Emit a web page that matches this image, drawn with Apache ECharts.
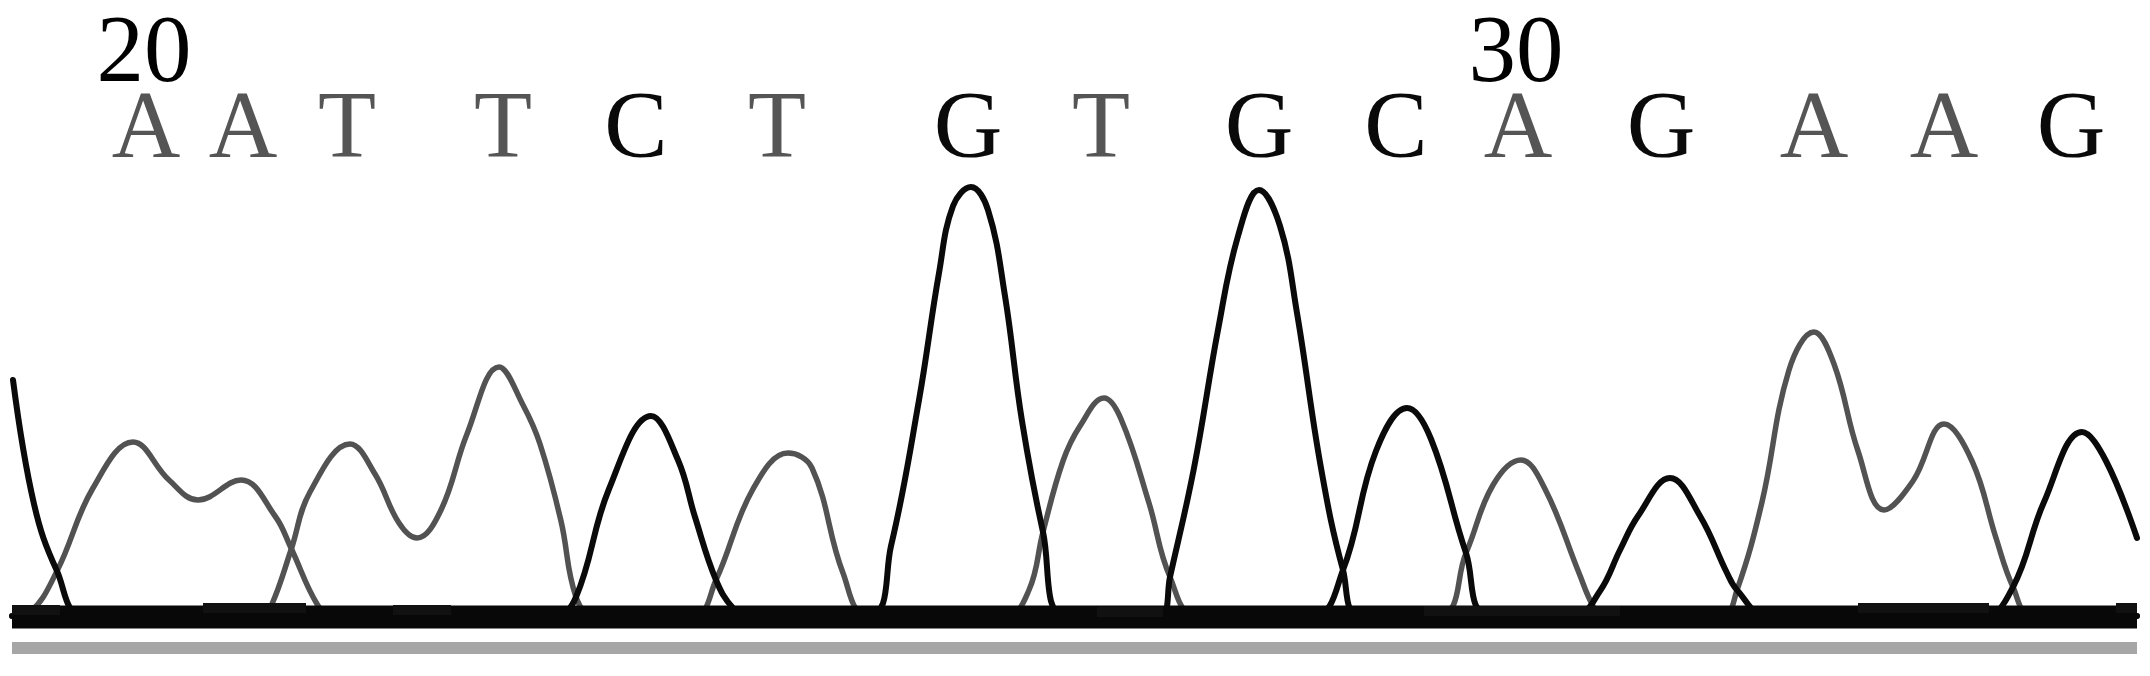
<html>
  <head>
    <meta charset="utf-8">
    <title>Chromatogram</title>
    <script type="text/javascript" src="https://cdn.jsdelivr.net/npm/echarts@6/dist/echarts.min.js"></script>
    <style>
      html, body { margin: 0; padding: 0; background: #fff; }
      #chart { width: 2150px; height: 676px; }
    </style>
  </head>
  <body>
    <div id="chart"></div>
    <script>
      // base calls and their scan positions
      var bases = ['A', 'A', 'T', 'T', 'C', 'T', 'G', 'T', 'G', 'C', 'A', 'G', 'A', 'A', 'G'];
      var basePos = [146, 243, 347, 503, 636, 777, 968, 1101, 1259, 1396, 1518, 1661, 1814, 1944, 2071];
      var firstBaseNo = 20;

      // trace signal, [scan, intensity]
      var traceA = [[12, 0], [30, 4], [57, 45], [93, 128], [133, 174], [169, 136], [198, 116], [241, 136], [275, 100], [291, 68], [317, 12], [332, 0],
        [1436, 0], [1466, 63], [1493, 131], [1521, 156], [1545, 127], [1579, 43], [1592, 12], [1602, 0],
        [1722, 0], [1737, 26], [1762, 114], [1789, 246], [1814, 284], [1834, 252], [1858, 165], [1884, 106], [1913, 135], [1944, 192], [1972, 155], [1996, 78], [2013, 29], [2032, 0], [2137, 0]];
      var traceT = [[12, 0], [262, 0], [272, 12], [291, 66], [310, 124], [350, 172], [375, 142], [399, 93], [417, 78], [441, 106], [467, 182], [499, 249], [523, 211], [540, 172], [561, 95], [576, 19], [594, 0],
        [694, 0], [716, 36], [753, 127], [788, 163], [812, 148], [843, 43], [869, 0],
        [1006, 0], [1029, 26], [1043, 84], [1063, 155], [1080, 190], [1104, 218], [1121, 197], [1149, 113], [1170, 39], [1198, 0], [2137, 0]];
      var traceC = [[12, 0], [555, 0], [576, 19], [609, 127], [651, 200], [678, 156], [695, 99], [716, 36], [733, 8], [749, 0],
        [1312, 0], [1343, 46], [1376, 165], [1407, 208], [1431, 177], [1466, 63], [1492, 0], [2137, 0]];
      var traceG = [[13, 236], [34, 112], [57, 45], [85, 0],
        [868, 0], [891, 70], [919, 216], [939, 343], [953, 410], [971, 429], [988, 406], [1005, 320], [1022, 195], [1043, 84], [1065, 0],
        [1161, 0], [1170, 39], [1194, 148], [1218, 286], [1238, 380], [1259, 426], [1280, 390], [1297, 303], [1321, 148], [1343, 46], [1361, 0],
        [1574, 0], [1600, 25], [1620, 66], [1638, 100], [1670, 138], [1700, 100], [1727, 43], [1737, 26], [1767, 0],
        [1984, 0], [2013, 29], [2044, 114], [2082, 184], [2106, 155], [2137, 78]];
      // little raised stretches of baseline noise, '-' breaks the line
      var baseNoise = [[12, 6], [60, 6], [61, '-'], [203, 8], [306, 8], [307, '-'], [393, 6], [451, 6], [452, '-'],
        [1097, 4], [1163, 4], [1164, '-'], [1424, 5], [1620, 5], [1621, '-'], [1858, 8], [1989, 8], [1990, '-'], [2116, 8], [2137, 8]];

      var scanStart = 12, scanEnd = 2137;

      var chart = echarts.init(document.getElementById('chart'));

      var baseData = [];
      for (var i = 0; i < bases.length; i++) {
        var dark = (bases[i] == 'C' || bases[i] == 'G');
        baseData.push({
          value: [basePos[i], 484],
          label: { formatter: bases[i], color: dark ? '#0a0a0a' : '#555555' }
        });
      }
      var numData = [];
      for (var i = 0; i < bases.length; i++) {
        if ((firstBaseNo + i) % 10 == 0) {
          numData.push({ value: [basePos[i] - 2, 560], label: { formatter: String(firstBaseNo + i) } });
        }
      }

      function trace(name, data, color, width) {
        return {
          name: name,
          type: 'line',
          data: data,
          smooth: 0.4,
          showSymbol: false,
          z: 3,
          lineStyle: { color: color, width: width, cap: 'round', join: 'round' }
        };
      }

      var textFont = '"Liberation Serif", "Times New Roman", serif';

      chart.setOption({
        animation: false,
        backgroundColor: '#fff',
        grid: { left: 0, right: 0, top: 0, bottom: 0 },
        xAxis: { type: 'value', min: 0, max: 2150, show: false },
        yAxis: { type: 'value', min: -60, max: 616, show: false },
        series: [
          trace('A', traceA, '#525252', 5.5),
          trace('T', traceT, '#525252', 5.5),
          trace('C', traceC, '#0a0a0a', 6),
          trace('G', traceG, '#0a0a0a', 6),
          {
            name: 'baseline',
            type: 'line',
            data: [[scanStart, -1], [scanEnd, -1]],
            showSymbol: false,
            z: 4,
            lineStyle: { color: '#080808', width: 23, cap: 'butt' }
          },
          {
            name: 'noise',
            type: 'line',
            data: baseNoise,
            showSymbol: false,
            connectNulls: false,
            z: 4,
            lineStyle: { color: '#111', width: 10, cap: 'butt' }
          },
          {
            name: 'rule',
            type: 'line',
            data: [[scanStart, -32], [scanEnd, -32]],
            showSymbol: false,
            z: 4,
            lineStyle: { color: '#a6a6a6', width: 12, cap: 'butt' }
          },
          {
            name: 'bases',
            type: 'scatter',
            symbolSize: 0,
            itemStyle: { opacity: 1 },
            data: baseData,
            label: {
              show: true,
              position: 'inside',
              textBorderWidth: 0,
              fontFamily: textFont,
              fontSize: 95
            }
          },
          {
            name: 'numbers',
            type: 'scatter',
            symbolSize: 0,
            itemStyle: { opacity: 1 },
            data: numData,
            label: {
              show: true,
              position: 'inside',
              color: '#000',
              textBorderWidth: 0,
              fontFamily: textFont,
              fontSize: 95
            }
          }
        ]
      });
    </script>
  </body>
</html>
